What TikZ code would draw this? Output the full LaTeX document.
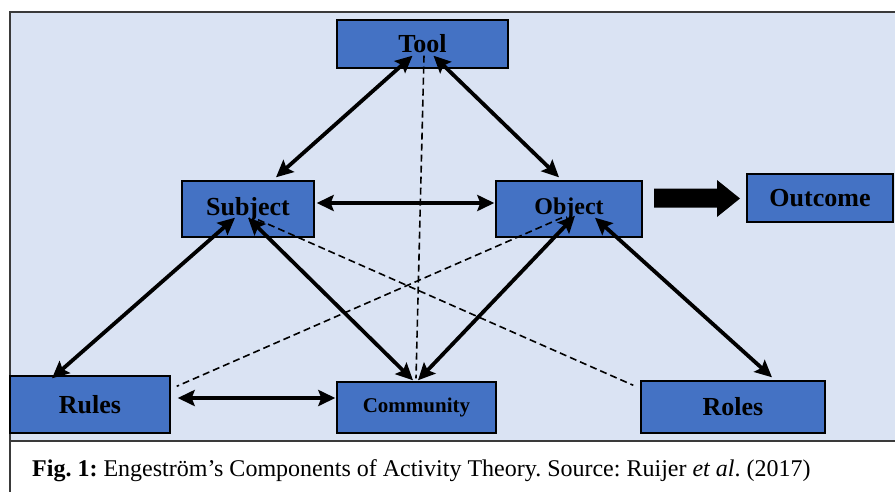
\documentclass[tikz,border=0pt]{standalone}
\usepackage{fontspec}
\setmainfont{Liberation Serif}
\usetikzlibrary{arrows.meta,calc}
\definecolor{bgblue}{HTML}{DAE3F3}
\definecolor{boxblue}{HTML}{4472C4}
\definecolor{framegray}{HTML}{3A3A3A}
\frenchspacing
\begin{document}
\begin{tikzpicture}[x=1pt,y=-1pt,
  comp/.style={draw=black, line width=1.4pt, fill=boxblue, inner sep=0pt,
    font=\fontsize{26}{30}\selectfont\bfseries},
  link/.style={line width=3.8pt,
    {Stealth[length=17pt,width=16pt,inset=3pt]}-{Stealth[length=17pt,width=16pt,inset=3pt]}},
  dashlink/.style={line width=1.6pt, dash pattern=on 7pt off 4pt}]
\useasboundingbox (0,0) rectangle (895,491);
\clip (0,0) rectangle (895,491);
% frame
\draw[framegray, line width=1.8pt, fill=bgblue] (10,12) rectangle (905,441);
\draw[framegray, line width=1.4pt] (10,441) rectangle (905,505);
% components
\node[comp, minimum width=171pt, minimum height=48pt] (tool) at (422.5,44) {Tool};
\node[comp, minimum width=132pt, minimum height=56pt] (subject) at (248,209) {Subject};
\node[comp, minimum width=146pt, minimum height=56pt, font=\fontsize{24}{28}\selectfont\bfseries] (object) at (569,209) {Object};
\node[comp, minimum width=146pt, minimum height=48pt] (outcome) at (820,198) {Outcome};
\node[comp, minimum width=160pt, minimum height=57pt] (rules) at (90,404.5) {Rules};
\node[comp, minimum width=159pt, minimum height=51pt, font=\fontsize{21}{25}\selectfont\bfseries] (community) at (416.5,407.5) {Community};
\node[comp, minimum width=184pt, minimum height=52pt] (roles) at (733,407) {Roles};
% block arrow object -> outcome
\fill (654,188.5) -- (717,188.5) -- (717,180) -- (740,198.5) -- (717,217) -- (717,207.5) -- (654,207.5) -- cycle;
% dashed links
\draw[dashlink] ($(tool.south)+(1.5,-13)$) -- ($(community.north)+(-0.5,-3)$);
\draw[dashlink] ($(subject.south)+(10,-18)$) -- ($(roles.north west)+(-7,5)$);
\draw[dashlink] ($(object.south)+(-7,-20)$) -- ($(rules.north east)+(6,11)$);
% solid links
\draw[link] ($(tool.south)+(-10,-13)$) -- ($(subject.north)+(28,-3)$);
\draw[link] ($(tool.south)+(11,-13)$) -- ($(object.north)+(-10,-3)$);
\draw[link] ($(subject.east)+(2,-6)$) -- ($(object.west)+(-1,-6)$);
\draw[link] ($(subject.south)+(-13,-20)$) -- ($(rules.north)+(-38,3)$);
\draw[link] ($(subject.south)+(0,-20)$) -- ($(community.north)+(-3.5,-1)$);
\draw[link] ($(object.south)+(6,-22)$) -- ($(community.north)+(1.5,-1)$);
\draw[link] ($(object.south)+(26,-20)$) -- ($(roles.north)+(39,-3)$);
\draw[link] ($(rules.east)+(7,-6.5)$) -- ($(community.west)+(-1,-9.5)$);
% caption
\node[anchor=base west, inner sep=0pt, font=\fontsize{24}{28}\selectfont] (caption) at (32,476)
  {\textbf{Fig. 1:} Engeström’s Components of Activity Theory. Source: Ruijer \textit{et al}. (2017)};
\end{tikzpicture}
\end{document}
